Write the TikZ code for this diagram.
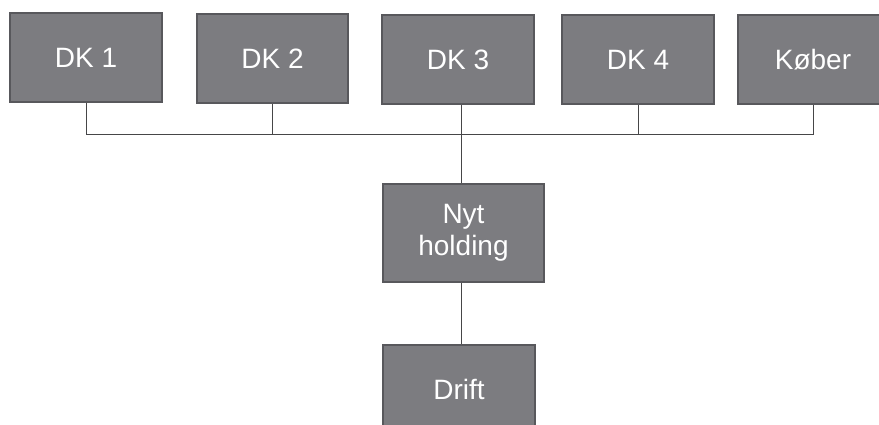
\documentclass[tikz,border=0pt]{standalone}
\usepackage{fontspec}
\usepackage{color}
\setmainfont{Liberation Sans}
\definecolor{boxfill}{RGB}{124,124,128}
\definecolor{boxedge}{RGB}{88,88,92}
\definecolor{wire}{RGB}{70,70,72}
\tikzset{
	unit/.style={draw=boxedge, line width=2pt, fill=boxfill, text=white,
		minimum height=89pt, inner sep=0pt, align=center,
		font=\fontsize{28}{32}\selectfont},
	wireline/.style={draw=wire, line width=0.9pt}
}

\begin{document}
\begin{tikzpicture}[x=1pt,y=-1pt]
	\useasboundingbox (0,0) rectangle (879,425);
	\clip (0,0) rectangle (879,425);
	\fill[white] (0,0) rectangle (879,425);
	\node[unit, minimum width=152pt] (dk1) at (86,57.5) {DK 1};
	\node[unit, minimum width=151pt] (dk2) at (272.5,58.5) {DK 2};
	\node[unit, minimum width=152pt] (dk3) at (458,59.5) {DK 3};
	\node[unit, minimum width=152pt] (dk4) at (638,59.5) {DK 4};
	\node[unit, minimum width=150pt] (kober) at (813,60) {Køber};
	\node[unit, minimum width=161pt, minimum height=98pt] (holding) at (463.5,233) {Nyt\\holding};
	\node[unit, minimum width=152pt] (drift) at (459,389.5) {Drift};
	\coordinate (bus) at (461,134.5);
	\draw[wireline] (dk1.south) |- (kober.south |- bus) -- (kober.south);
	\draw[wireline] (dk2.south) -- (dk2.south |- bus);
	\draw[wireline] (dk4.south) -- (dk4.south |- bus);
	\draw[wireline] (bus |- dk3.south) -- (bus |- holding.north);
	\draw[wireline] (bus |- holding.south) -- (bus |- drift.north);
\end{tikzpicture}
\end{document}
